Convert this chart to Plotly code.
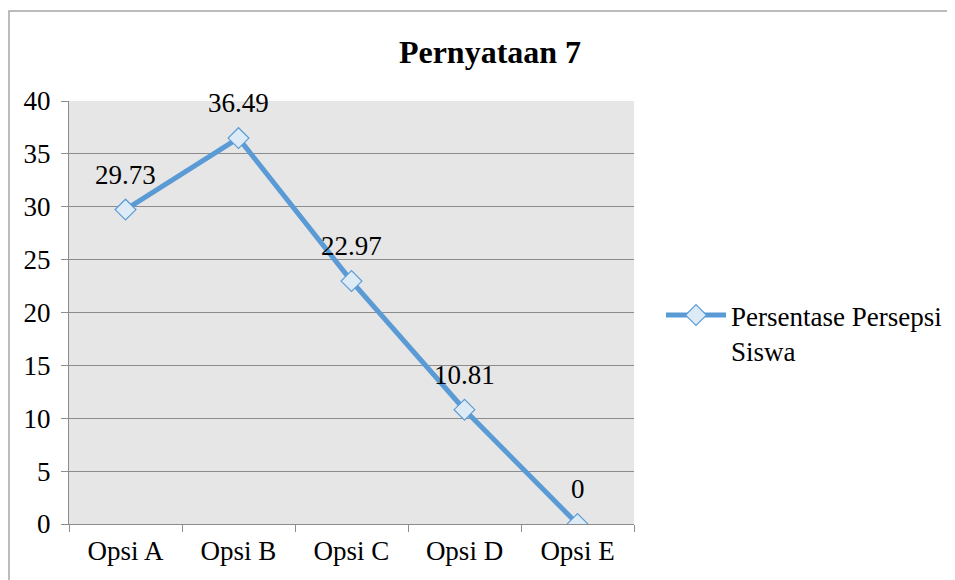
import plotly.graph_objects as go

categories = ["Opsi A", "Opsi B", "Opsi C", "Opsi D", "Opsi E"]
values = [29.73, 36.49, 22.97, 10.81, 0]
value_labels = ["29.73", "36.49", "22.97", "10.81", "0"]
series_name = "Persentase Persepsi<br>Siswa"
title_text = "<b>Pernyataan 7</b>"

FONT = "Liberation Serif, Times New Roman, serif"
BLUE = "#5B9BD5"
FS = 27

# page body has an 8px default margin, so work in shifted pixel coordinates
OFF = 8
W, H = 955 - OFF, 580 - OFF
L, R, T, B = 69 - OFF, 634 - OFF, 101 - OFF, 524 - OFF


def px_x(p):
    return (p - OFF - L) / (R - L)


def px_y(p):
    return (B - (p - OFF)) / (B - T)


fig = go.Figure()
fig.add_trace(go.Scatter(
    x=categories, y=values, mode="lines+markers", name=series_name,
    line=dict(color=BLUE, width=5),
    marker=dict(symbol="diamond", size=16, color="#DDEBF7",
                line=dict(color=BLUE, width=1.2)),
))

for c, v, t in zip(categories, values, value_labels):
    fig.add_annotation(x=c, y=v, text=t, showarrow=False, yshift=35,
                       font=dict(family=FONT, size=FS, color="#000000"))

# outer chart border
fig.add_shape(type="rect", xref="paper", yref="paper",
              x0=px_x(9), x1=px_x(1000), y0=px_y(640), y1=px_y(11),
              line=dict(color="#A6A6A6", width=1.5), fillcolor="rgba(0,0,0,0)",
              layer="below")

fig.update_layout(
    width=W, height=H,
    margin=dict(l=L, r=W - R, t=T, b=H - B, autoexpand=False),
    paper_bgcolor="white", plot_bgcolor="#E6E6E6",
    font=dict(family=FONT, size=FS, color="#000000"),
    title=dict(text=title_text, xref="paper", x=px_x(490), xanchor="center",
               y=1 - (52 - OFF) / H, yanchor="middle",
               font=dict(family=FONT, size=32, color="#000000")),
    showlegend=True,
    legend=dict(x=px_x(661), y=px_y(333), xanchor="left", yanchor="middle",
                valign="top", itemwidth=60,
                bgcolor="rgba(0,0,0,0)", font=dict(family=FONT, size=FS)),
    xaxis=dict(type="category", showgrid=False, showline=True,
               linecolor="#8C8C8C", linewidth=1, ticks="outside",
               tickson="boundaries", ticklen=7, tickcolor="#8C8C8C",
               ticklabelstandoff=3,
               tickfont=dict(family=FONT, size=FS), range=[-0.5, 4.5],
               fixedrange=True),
    yaxis=dict(range=[0, 40], dtick=5, showgrid=True, gridcolor="#8C8C8C",
               gridwidth=1, showline=True, linecolor="#8C8C8C", linewidth=1,
               ticks="outside", ticklen=7, tickcolor="#8C8C8C",
               ticklabelstandoff=5,
               tickfont=dict(family=FONT, size=FS), zeroline=False,
               fixedrange=True),
)

fig.write_html("out.html")
